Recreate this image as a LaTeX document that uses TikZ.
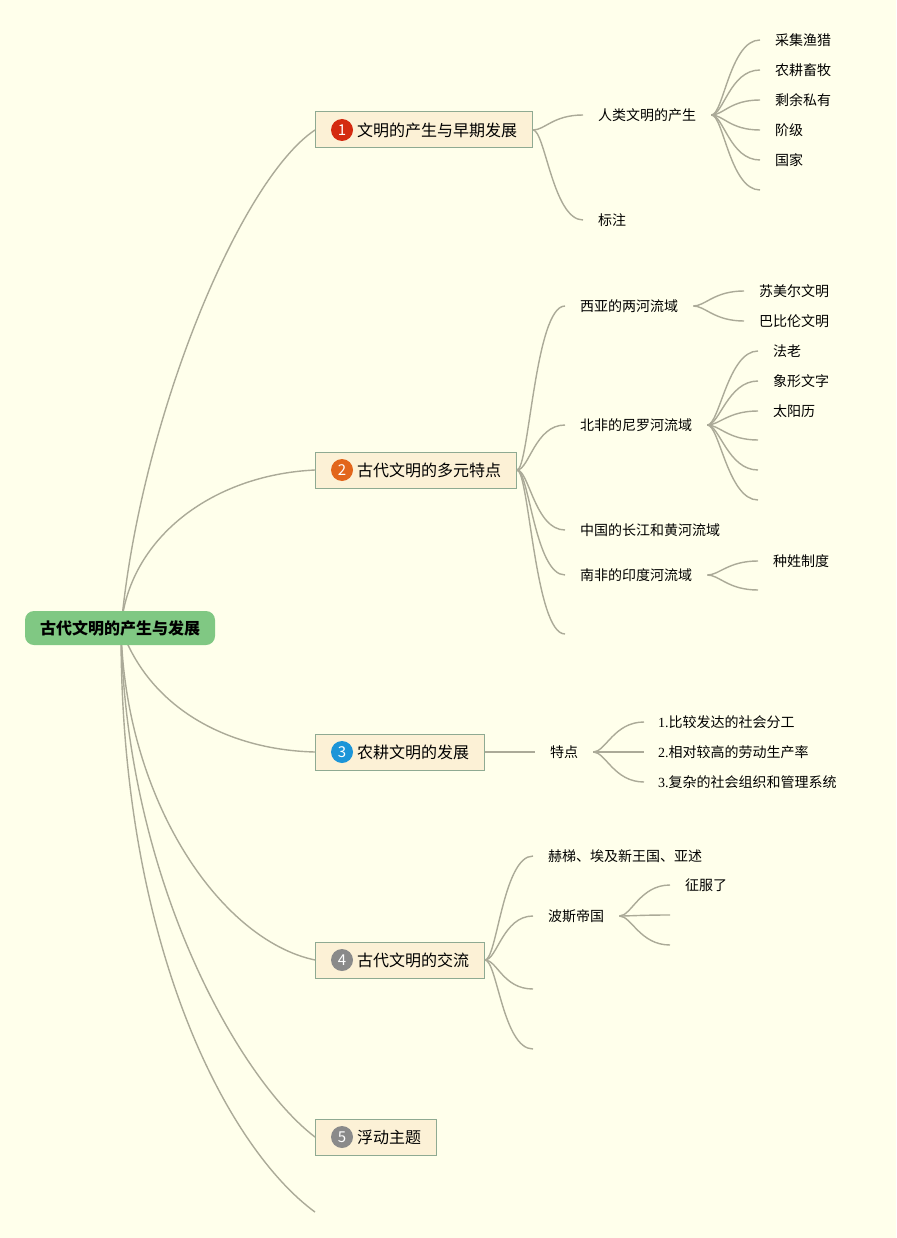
\documentclass[tikz,border=0pt]{standalone}
\usepackage{fontspec}
\newfontfamily\cjk{Noto Sans CJK SC}
\newfontfamily\lser{Liberation Serif}
\usetikzlibrary{calc}
\definecolor{bg}{HTML}{FFFFEB}
\definecolor{linec}{HTML}{ABAA98}
\definecolor{topicfill}{HTML}{FCF1D6}
\definecolor{topicborder}{HTML}{8FAA92}
\definecolor{rootfill}{HTML}{80C883}
\definecolor{bred}{HTML}{D42A10}
\definecolor{borange}{HTML}{E2661C}
\definecolor{bblue}{HTML}{1C95D8}
\definecolor{bgray}{HTML}{8A8A8A}
\tikzset{
  link/.style={draw=linec, line width=1.4pt},
  leaf/.style={anchor=west, inner xsep=15pt, inner ysep=2pt, font=\cjk\fontsize{14}{16}\selectfont, text=black},
  topic/.style={draw=topicborder, fill=topicfill, line width=1pt, anchor=west, minimum height=36pt, inner sep=0pt},
  tlabel/.style={anchor=west, inner sep=0pt, font=\cjk\fontsize{16}{19}\selectfont, text=black},
  badge/.style={circle, fill=#1, text=white, minimum size=22pt, inner sep=0pt, font=\cjk\fontsize{15}{15}\selectfont},
  fan/.style={to path={.. controls ($(\tikztostart)+(12,0)$) and ($(\tikztotarget)+(-30,0)$) .. (\tikztotarget)}}
}
\begin{document}
\begin{tikzpicture}[x=1pt,y=-1pt,font=\cjk]
\fill[bg] (0,0) rectangle (896,1238);
\useasboundingbox (0,0) rectangle (896,1238);

% root center
\coordinate (rc) at (121,628);

% topics
\node[topic, minimum width=217pt] (t1) at (315,130) {};
\node[badge=bred] (t1b) at (342,130) {1};
\node[tlabel] (t1l) at (357,130) {文明的产生与早期发展};

\node[topic, minimum width=201pt] (t2) at (315,470) {};
\node[badge=borange] (t2b) at (342,470) {2};
\node[tlabel] (t2l) at (357,470) {古代文明的多元特点};

\node[topic, minimum width=169pt] (t3) at (315,752) {};
\node[badge=bblue] (t3b) at (342,752) {3};
\node[tlabel] (t3l) at (357,752) {农耕文明的发展};

\node[topic, minimum width=169pt] (t4) at (315,960) {};
\node[badge=bgray] (t4b) at (342,960) {4};
\node[tlabel] (t4l) at (357,960) {古代文明的交流};

\node[topic, minimum width=121pt] (t5) at (315,1137) {};
\node[badge=bgray] (t5b) at (342,1137) {5};
\node[tlabel] (t5l) at (357,1137) {浮动主题};

\coordinate (t6) at (315,1212);

% root connectors
\draw[link] (rc) .. controls (140,420) and (240,180) .. (t1.west);
\draw[link] (rc) .. controls (128,540) and (210,475) .. (t2.west);
\draw[link] (rc) .. controls (150,710) and (230,750) .. (t3.west);
\draw[link] (rc) .. controls (125,800) and (220,940) .. (t4.west);
\draw[link] (rc) .. controls (125,880) and (240,1080) .. (t5.west);
\draw[link] (rc) .. controls (120,950) and (230,1150) .. (t6);

\node[rounded corners=9pt, fill=rootfill, minimum width=190pt, minimum height=34pt, inner sep=0pt,
      font=\cjk\bfseries\fontsize{16}{19}\selectfont] (root) at (120,628) {古代文明的产生与发展};

% branch 1
\node[leaf] (a1) at (583,115) {人类文明的产生};
\node[leaf] (a2) at (583,220) {标注};
\draw[link] (t1.east) to[fan] (a1.west);
\draw[link] (t1.east) to[fan] (a2.west);
\node[leaf] (a11) at (760,40) {采集渔猎};
\node[leaf] (a12) at (760,70) {农耕畜牧};
\node[leaf] (a13) at (760,100) {剩余私有};
\node[leaf] (a14) at (760,130) {阶级};
\node[leaf] (a15) at (760,160) {国家};
\coordinate (a16) at (760,190);
\foreach \n in {a11,a12,a13,a14,a15} \draw[link] (a1.east) to[fan] (\n.west);
\draw[link] (a1.east) to[fan] (a16);

% branch 2
\node[leaf] (b1) at (565,306) {西亚的两河流域};
\node[leaf] (b2) at (565,425) {北非的尼罗河流域};
\node[leaf] (b3) at (565,530) {中国的长江和黄河流域};
\node[leaf] (b4) at (565,575) {南非的印度河流域};
\coordinate (b5) at (565,634);
\foreach \n in {b1,b2,b3,b4} \draw[link] (t2.east) to[fan] (\n.west);
\draw[link] (t2.east) to[fan] (b5);

\node[leaf] (b11) at (744,291) {苏美尔文明};
\node[leaf] (b12) at (744,321) {巴比伦文明};
\foreach \n in {b11,b12} \draw[link] (b1.east) to[fan] (\n.west);

\node[leaf] (b21) at (758,351) {法老};
\node[leaf] (b22) at (758,381) {象形文字};
\node[leaf] (b23) at (758,411) {太阳历};
\coordinate (b24) at (758,440);
\coordinate (b25) at (758,470);
\coordinate (b26) at (758,500);
\foreach \n in {b21,b22,b23} \draw[link] (b2.east) to[fan] (\n.west);
\foreach \n in {b24,b25,b26} \draw[link] (b2.east) to[fan] (\n);

\node[leaf] (b41) at (758,561) {种姓制度};
\coordinate (b42) at (758,590);
\draw[link] (b4.east) to[fan] (b41.west);
\draw[link] (b4.east) to[fan] (b42);

% branch 3
\node[leaf] (c1) at (535,752) {特点};
\draw[link] (t3.east) -- (c1.west);
\node[leaf, inner xsep=14pt] (c11) at (644,722) {{\lser 1.}比较发达的社会分工};
\node[leaf, inner xsep=14pt] (c12) at (644,752) {{\lser 2.}相对较高的劳动生产率};
\node[leaf, inner xsep=14pt] (c13) at (644,782) {{\lser 3.}复杂的社会组织和管理系统};
\foreach \n in {c11,c12,c13} \draw[link] (c1.east) to[fan] (\n.west);

% branch 4
\node[leaf] (d1) at (533,856) {赫梯、埃及新王国、亚述};
\node[leaf] (d2) at (533,916) {波斯帝国};
\coordinate (d3) at (533,989);
\coordinate (d4) at (533,1049);
\foreach \n in {d1,d2} \draw[link] (t4.east) to[fan] (\n.west);
\foreach \n in {d3,d4} \draw[link] (t4.east) to[fan] (\n);

\node[leaf] (d21) at (670,885) {征服了};
\coordinate (d22) at (670,915);
\coordinate (d23) at (670,945);
\draw[link] (d2.east) to[fan] (d21.west);
\draw[link] (d2.east) to[fan] (d22);
\draw[link] (d2.east) to[fan] (d23);
\end{tikzpicture}
\end{document}
